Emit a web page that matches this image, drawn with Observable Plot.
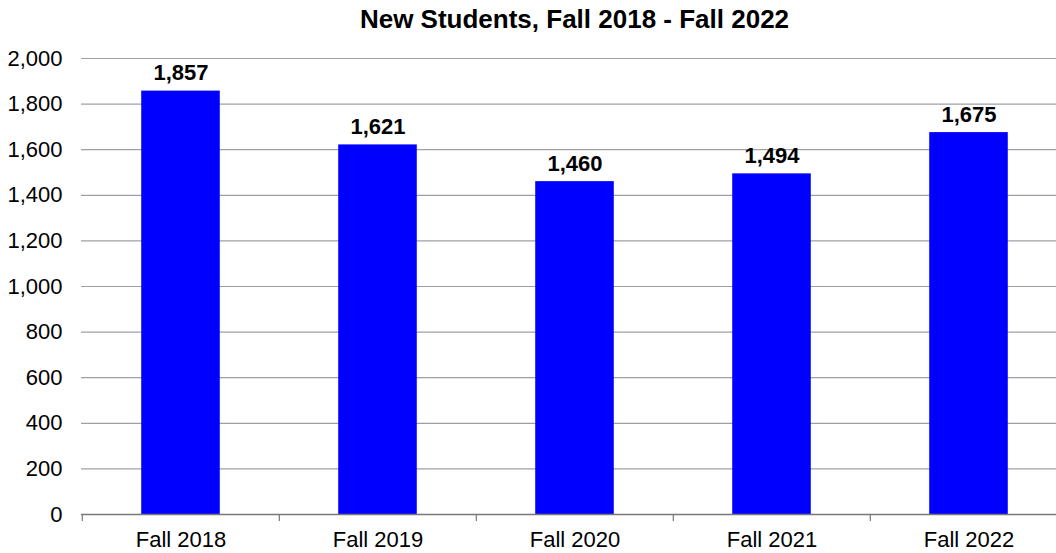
<!DOCTYPE html>
<html>
<head>
<meta charset="utf-8">
<script src="https://cdn.jsdelivr.net/npm/d3@7"></script>
<script src="https://cdn.jsdelivr.net/npm/@observablehq/plot@0.6"></script>
<style>
  html, body { margin: 0; padding: 0; background: #fff; overflow: hidden; width: 1056px; height: 553px; }
  #wrap { position: relative; width: 1056px; height: 553px; overflow: hidden; }
  #title { position: absolute; top: 6px; left: 81px; width: 987px; text-align: center;
           font: bold 26px "Liberation Sans", Arial, sans-serif; line-height: 1; color: #000; }
  #chart { position: absolute; top: 0; left: 0; width: 1056px; height: 553px; overflow: hidden; }
  #chart svg { display: block; }
</style>
</head>
<body>
<div id="wrap">
  <div id="chart"></div>
  <div id="title">New Students, Fall 2018 - Fall 2022</div>
</div>
<script>
const categories = ["Fall 2018", "Fall 2019", "Fall 2020", "Fall 2021", "Fall 2022"];
const values = [1857, 1621, 1460, 1494, 1675];
const yTicks = [0, 200, 400, 600, 800, 1000, 1200, 1400, 1600, 1800, 2000];

const data = categories.map((c, i) => ({term: c, value: values[i]}));

const W = 1070, H = 553, ML = 81, MR = 2, MT = 58, MB = 39;
const bw = (W - ML - MR) / categories.length;

const chart = Plot.plot({
  width: W,
  height: H,
  marginLeft: ML,
  marginRight: MR,
  marginTop: MT,
  marginBottom: MB,
  style: {fontFamily: '"Liberation Sans", Arial, sans-serif', fontSize: "22px", color: "#000", background: "transparent", maxWidth: "none", width: W + "px"},
  x: {domain: categories, padding: 0, label: null},
  y: {domain: [0, 2000], label: null},
  marks: [
    Plot.ruleY(yTicks.filter(d => d > 0), {stroke: "#a0a0a0", strokeWidth: 1.2, strokeOpacity: 1}),
    Plot.barY(data, {x: "term", y: "value", fill: "#0000ff", insetLeft: bw * 0.3, insetRight: bw * 0.3}),
    Plot.ruleY([0], {stroke: "#777", strokeWidth: 1.3}),
    Plot.ruleX(categories, {x: d => d, y1: 0, y2: 0, dx: -bw / 2, insetBottom: -7, stroke: "#777", strokeWidth: 1.2}),
    Plot.text(data, {x: "term", y: "value", text: d => d3.format(",")(d.value), lineAnchor: "bottom", dy: -11,
      fontWeight: "bold", fontSize: 22, fill: "#000"}),
    Plot.axisY({ticks: yTicks, tickSize: 0, tickPadding: 19, tickFormat: d3.format(","), fontSize: 22, fill: "#000"}),
    Plot.axisX({tickSize: 0, tickPadding: 17, fontSize: 22, fill: "#000"})
  ]
});
document.getElementById("chart").appendChild(chart);
</script>
</body>
</html>
